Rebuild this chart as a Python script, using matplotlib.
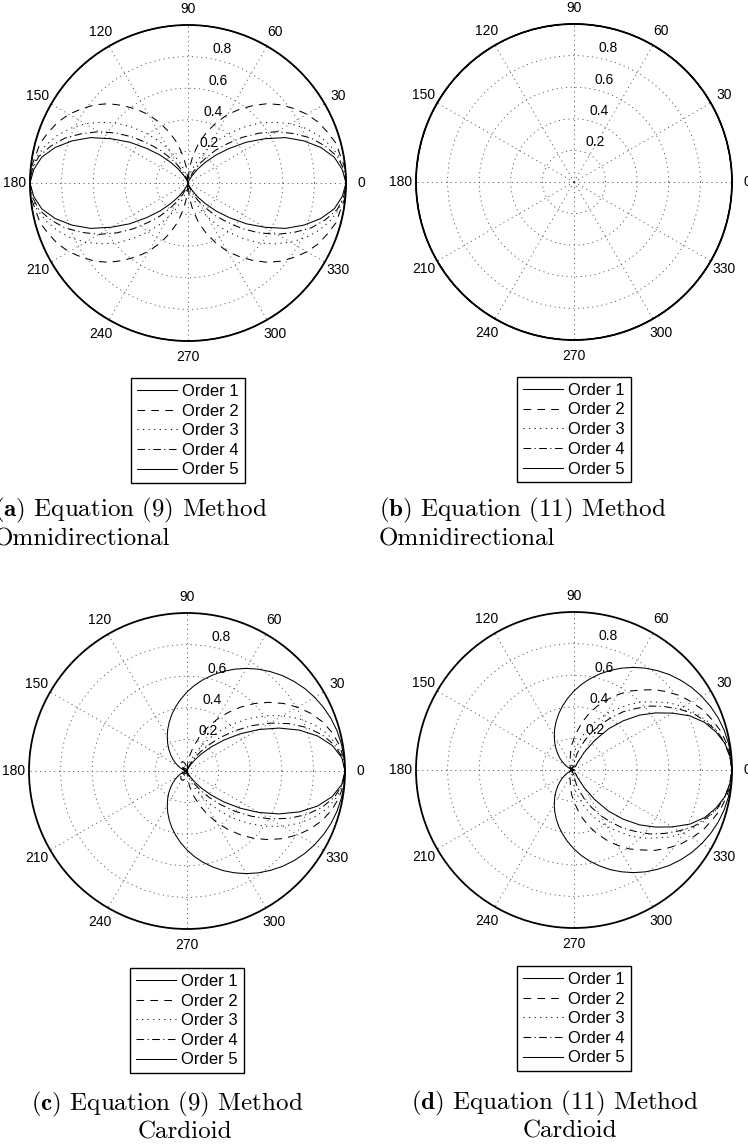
import matplotlib

matplotlib.use("Agg")

import matplotlib.pyplot as plt  # noqa: E402
import numpy as np  # noqa: E402

plt.rcParams["font.family"] = ["Liberation Sans", "DejaVu Sans"]
plt.rcParams["mathtext.fontset"] = "cm"
plt.rcParams["lines.scale_dashes"] = False

W, H = 748, 1145

# sample angles (degrees); the patterns are symmetric so only part is stored
angles_quarter = list(range(0, 91, 5))
angles_half = list(range(0, 181, 5))

order_labels = ["Order 1", "Order 2", "Order 3", "Order 4", "Order 5"]

# (a) Equation (9), omnidirectional -- 0..90 deg, mirrored into all quadrants
eq9_omni_r = [
    [1.00, 1.00, 1.00, 1.00, 1.00, 1.00, 1.00, 1.00, 1.00, 1.00,
     1.00, 1.00, 1.00, 1.00, 1.00, 1.00, 1.00, 1.00, 1.00],
    [1.00, 1.00, 0.98, 0.97, 0.94, 0.91, 0.87, 0.82, 0.77, 0.71,
     0.64, 0.57, 0.50, 0.42, 0.34, 0.26, 0.17, 0.09, 0.00],
    [1.00, 0.99, 0.97, 0.93, 0.88, 0.82, 0.75, 0.67, 0.59, 0.50,
     0.41, 0.33, 0.25, 0.18, 0.12, 0.07, 0.03, 0.01, 0.00],
    [1.00, 0.99, 0.96, 0.90, 0.83, 0.74, 0.65, 0.55, 0.45, 0.35,
     0.27, 0.19, 0.13, 0.08, 0.04, 0.02, 0.01, 0.00, 0.00],
    [1.00, 0.98, 0.94, 0.87, 0.78, 0.68, 0.56, 0.45, 0.34, 0.25,
     0.17, 0.11, 0.06, 0.03, 0.01, 0.00, 0.00, 0.00, 0.00],
]

# (b) Equation (11), omnidirectional -- every order lies on the unit circle
eq11_omni_r = [
    [1.00, 1.00, 1.00, 1.00, 1.00, 1.00, 1.00, 1.00, 1.00, 1.00,
     1.00, 1.00, 1.00, 1.00, 1.00, 1.00, 1.00, 1.00, 1.00],
    [1.00, 1.00, 1.00, 1.00, 1.00, 1.00, 1.00, 1.00, 1.00, 1.00,
     1.00, 1.00, 1.00, 1.00, 1.00, 1.00, 1.00, 1.00, 1.00],
    [1.00, 1.00, 1.00, 1.00, 1.00, 1.00, 1.00, 1.00, 1.00, 1.00,
     1.00, 1.00, 1.00, 1.00, 1.00, 1.00, 1.00, 1.00, 1.00],
    [1.00, 1.00, 1.00, 1.00, 1.00, 1.00, 1.00, 1.00, 1.00, 1.00,
     1.00, 1.00, 1.00, 1.00, 1.00, 1.00, 1.00, 1.00, 1.00],
    [1.00, 1.00, 1.00, 1.00, 1.00, 1.00, 1.00, 1.00, 1.00, 1.00,
     1.00, 1.00, 1.00, 1.00, 1.00, 1.00, 1.00, 1.00, 1.00],
]

# (c) Equation (9), cardioid -- 0..180 deg, mirrored below the x axis
eq9_card_r = [
    [1.000, 0.998, 0.992, 0.983, 0.970, 0.953, 0.933, 0.910, 0.883, 0.854,
     0.821, 0.787, 0.750, 0.711, 0.671, 0.629, 0.587, 0.544, 0.500,
     0.456, 0.413, 0.371, 0.329, 0.289, 0.250, 0.213, 0.179, 0.146,
     0.117, 0.090, 0.067, 0.047, 0.030, 0.017, 0.008, 0.002, 0.000],
    [1.000, 0.994, 0.977, 0.949, 0.912, 0.864, 0.808, 0.745, 0.676, 0.604,
     0.528, 0.451, 0.375, 0.300, 0.229, 0.163, 0.102, 0.047, 0.000,
     0.020, 0.035, 0.050, 0.060, 0.065, 0.065, 0.065, 0.060, 0.055,
     0.050, 0.045, 0.040, 0.030, 0.020, 0.015, 0.010, 0.005, 0.000],
    [1.000, 0.990, 0.962, 0.917, 0.857, 0.783, 0.700, 0.610, 0.518, 0.427,
     0.339, 0.259, 0.188, 0.127, 0.078, 0.042, 0.018, 0.004, 0.000,
     0.005, 0.010, 0.015, 0.020, 0.025, 0.030, 0.033, 0.035, 0.035,
     0.035, 0.033, 0.030, 0.025, 0.020, 0.015, 0.010, 0.005, 0.000],
    [1.000, 0.987, 0.948, 0.886, 0.806, 0.710, 0.606, 0.500, 0.397, 0.302,
     0.218, 0.148, 0.094, 0.054, 0.027, 0.011, 0.003, 0.000, 0.000,
     0.000, 0.003, 0.006, 0.010, 0.015, 0.020, 0.025, 0.028, 0.030,
     0.030, 0.028, 0.025, 0.020, 0.015, 0.010, 0.007, 0.003, 0.000],
    [1.000, 0.983, 0.933, 0.856, 0.757, 0.643, 0.525, 0.410, 0.304, 0.214,
     0.140, 0.085, 0.047, 0.023, 0.009, 0.003, 0.000, 0.000, 0.000,
     0.000, 0.000, 0.003, 0.006, 0.010, 0.015, 0.020, 0.024, 0.026,
     0.026, 0.025, 0.022, 0.018, 0.013, 0.009, 0.005, 0.002, 0.000],
]

# (d) Equation (11), cardioid -- 0..180 deg, mirrored below the x axis
eq11_card_r = [
    [1.000, 0.998, 0.992, 0.983, 0.970, 0.953, 0.933, 0.910, 0.883, 0.854,
     0.821, 0.787, 0.750, 0.711, 0.671, 0.629, 0.587, 0.544, 0.500,
     0.456, 0.413, 0.371, 0.329, 0.289, 0.250, 0.213, 0.179, 0.146,
     0.117, 0.090, 0.067, 0.047, 0.030, 0.017, 0.008, 0.002, 0.000],
    [1.00, 0.995, 0.98, 0.96, 0.93, 0.90, 0.86, 0.82, 0.77, 0.72,
     0.66, 0.61, 0.55, 0.49, 0.43, 0.37, 0.31, 0.25, 0.20,
     0.16, 0.12, 0.09, 0.07, 0.06, 0.05, 0.045, 0.04, 0.035,
     0.03, 0.03, 0.03, 0.025, 0.02, 0.02, 0.02, 0.02, 0.02],
    [1.00, 0.99, 0.97, 0.94, 0.90, 0.85, 0.80, 0.74, 0.67, 0.61,
     0.54, 0.47, 0.41, 0.35, 0.29, 0.23, 0.18, 0.14, 0.10,
     0.07, 0.05, 0.04, 0.03, 0.03, 0.02, 0.02, 0.02, 0.02,
     0.02, 0.02, 0.02, 0.02, 0.02, 0.02, 0.02, 0.02, 0.02],
    [1.00, 0.99, 0.97, 0.94, 0.89, 0.84, 0.77, 0.70, 0.63, 0.55,
     0.48, 0.40, 0.33, 0.26, 0.20, 0.14, 0.10, 0.06, 0.04,
     0.03, 0.02, 0.02, 0.02, 0.02, 0.02, 0.02, 0.02, 0.02,
     0.02, 0.02, 0.02, 0.02, 0.02, 0.02, 0.02, 0.02, 0.02],
    [1.00, 0.99, 0.97, 0.93, 0.88, 0.81, 0.72, 0.63, 0.54, 0.44,
     0.34, 0.23, 0.13, 0.05, 0.02, 0.02, 0.02, 0.02, 0.02,
     0.02, 0.02, 0.02, 0.02, 0.02, 0.02, 0.02, 0.015, 0.015,
     0.01, 0.01, 0.01, 0.01, 0.01, 0.01, 0.01, 0.01, 0.01],
]

line_styles = ["-", (0, (5.5, 4.5)), (0, (0.8, 3.2)), (0, (5.5, 2.5, 0.8, 2.5)), "-"]
grid_style = (0, (0.8, 2.6))


def mirror_half(angles, r):
    """0..180 deg samples -> full 0..360 deg curve (symmetric about x axis)."""
    th = list(angles) + [360 - a for a in angles[-2::-1]]
    rr = list(r) + list(r[-2::-1])
    return np.deg2rad(th), np.array(rr)


def mirror_quarter(angles, r):
    """0..90 deg samples -> full curve (symmetric about both axes)."""
    half_th = list(angles) + [180 - a for a in angles[-2::-1]]
    half_r = list(r) + list(r[-2::-1])
    return mirror_half(half_th, half_r)


def setup_polar(ax):
    ax.set_ylim(0, 1)
    ax.set_thetagrids(np.arange(0, 360, 30), labels=[])
    ax.set_rgrids([0.2, 0.4, 0.6, 0.8], labels=[])
    ax.grid(True, color="0.25", linestyle=grid_style, linewidth=0.6)
    ax.spines["polar"].set_linewidth(1.3)
    ax.tick_params(length=0)
    for deg in range(0, 360, 30):
        ax.text(np.deg2rad(deg), 1.1, str(deg), ha="center", va="center",
                fontsize=10)
    for r in [0.2, 0.4, 0.6, 0.8, 1.0]:
        ax.annotate(f"{r:g}", xy=(np.deg2rad(82), r + 0.01), xytext=(5, 0),
                    textcoords="offset points", ha="left", va="bottom",
                    fontsize=10)


def panel(fig, cx, cy, radius, curves, mirror, angles, leg_top, caption):
    ax = fig.add_axes([(cx - radius) / W, 1 - (cy + radius) / H,
                       2 * radius / W, 2 * radius / H], projection="polar")
    setup_polar(ax)
    for r, ls, lab in zip(curves, line_styles, order_labels):
        th, rr = mirror(angles, r)
        ax.plot(th, rr, color="k", linestyle=ls, linewidth=0.75, label=lab,
                clip_on=False)
    leg = ax.legend(loc="upper center", bbox_to_anchor=(cx / W, 1 - leg_top / H),
                    bbox_transform=fig.transFigure, fancybox=False,
                    edgecolor="k", framealpha=1, fontsize=12,
                    handlelength=2.4, handletextpad=0.3, labelspacing=0.28,
                    borderpad=0.35, borderaxespad=0)
    leg.get_frame().set_linewidth(1.0)
    for text, x, y, ha in caption:
        fig.text(x / W, 1 - y / H, text, ha=ha, va="center",
                 fontsize=18, family="cmr10")
    return ax


fig = plt.figure(figsize=(W / 100, H / 100), dpi=100)

panel(fig, 188, 183, 158, eq9_omni_r, mirror_quarter, angles_quarter, 378,
      [(r"$\mathbf{(a)}$ Equation (9) Method", -6, 510, "left"),
       ("Omnidirectional", -6, 539, "left")])
panel(fig, 574, 182, 158, eq11_omni_r, mirror_quarter, angles_quarter, 377,
      [(r"$\mathbf{(b)}$ Equation (11) Method", 379, 510, "left"),
       ("Omnidirectional", 379, 539, "left")])
panel(fig, 187, 771, 158, eq9_card_r, mirror_half, angles_half, 968,
      [(r"$\mathbf{(c)}$ Equation (9) Method", 167, 1104, "center"),
       ("Cardioid", 185, 1132, "center")])
panel(fig, 574, 770, 158, eq11_card_r, mirror_half, angles_half, 966,
      [(r"$\mathbf{(d)}$ Equation (11) Method", 555, 1103, "center"),
       ("Cardioid", 570, 1131, "center")])

fig.savefig("out.png", dpi=100)
plt.close(fig)
